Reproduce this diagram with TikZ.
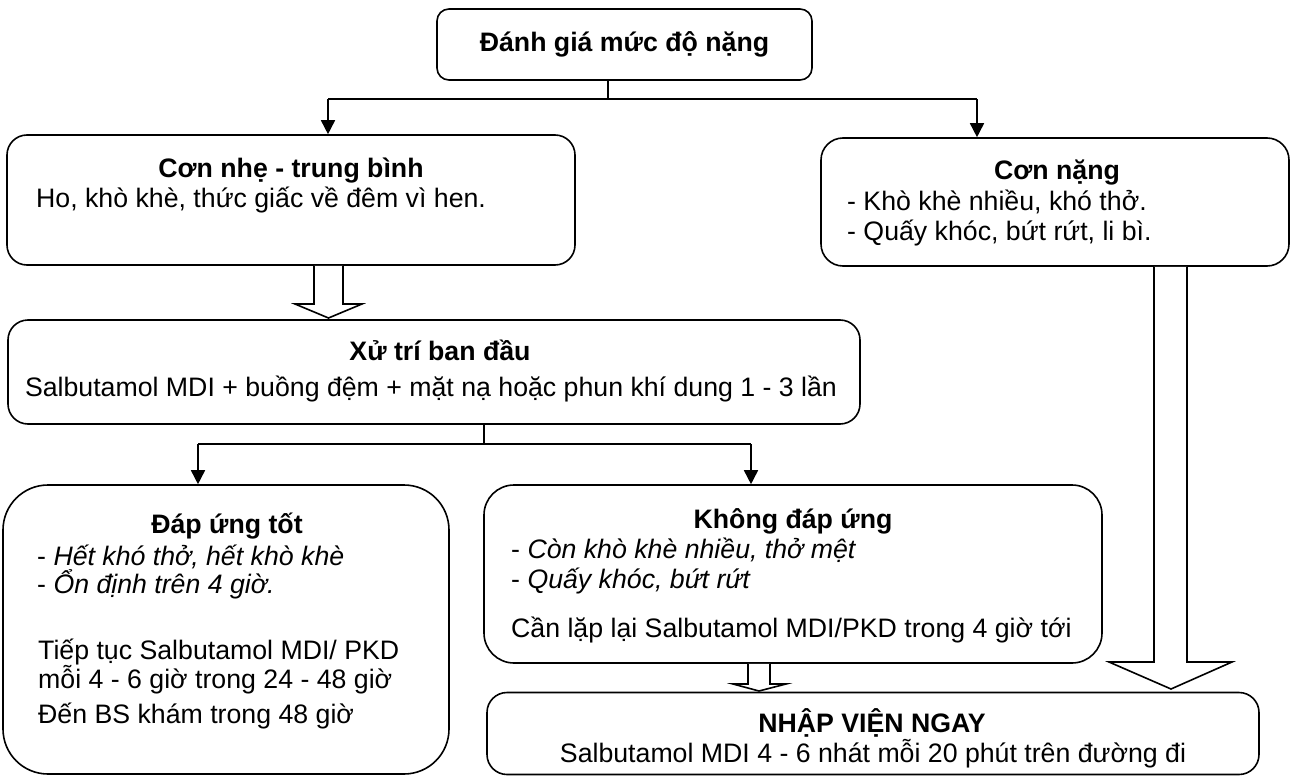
\documentclass[tikz,border=0pt]{standalone}
\usepackage{fontspec}
\setmainfont{Liberation Sans}
\usetikzlibrary{arrows.meta}
\begin{document}
\begin{tikzpicture}[x=1pt,y=-1pt,
  box/.style={draw, line width=1.6pt, inner sep=0pt},
  txt/.style={font=\fontsize{26.7}{30}\selectfont, inner sep=0pt, anchor=base},
  txl/.style={txt, anchor=base west},
  ttl/.style={txt, font=\fontsize{26.7}{30}\selectfont\bfseries},
  arr/.style={line width=1.6pt, -{Triangle[width=14pt,length=14pt]}},
  lin/.style={line width=1.6pt},
  hollow/.style={draw, fill=white, line width=1.6pt, line join=miter}]
\fill[white] (0,0) rectangle (1291,776);
\useasboundingbox (0,0) rectangle (1291,776);

% boxes
\node[box, minimum width=375pt, minimum height=71pt, rounded corners=12pt] (top) at (624.5,44.5) {};
\node[box, minimum width=568pt, minimum height=130pt, rounded corners=20pt] (nhe) at (291,200) {};
\node[box, minimum width=468pt, minimum height=128pt, rounded corners=22pt] (nang) at (1055,202) {};
\node[box, minimum width=852pt, minimum height=104pt, rounded corners=20pt] (xutri) at (434,372) {};
\node[box, minimum width=446pt, minimum height=289pt, rounded corners=45pt] (tot) at (226,629.5) {};
\node[box, minimum width=618pt, minimum height=178pt, rounded corners=30pt] (khong) at (793,574) {};
\node[box, minimum width=772pt, minimum height=82pt, rounded corners=20pt] (nhap) at (873,733.5) {};

% texts
\node[ttl] (t0) at (624.5,52) {Đánh giá mức độ nặng};
\node[ttl] (t1) at (291,177) {Cơn nhẹ - trung bình};
\node[txl] (t2) at (36,207) {Ho, khò khè, thức giấc về đêm vì hen.};
\node[ttl] (t3) at (1057,179) {Cơn nặng};
\node[txl] (t4) at (847,210) {- Khò khè nhiều, khó thở.};
\node[txl] (t5) at (847,240) {- Quấy khóc, bứt rứt, li bì.};
\node[ttl] (t6) at (440,360) {Xử trí ban đầu};
\node[txt] (t7) at (431,396) {Salbutamol MDI + buồng đệm + mặt nạ hoặc phun khí dung 1 - 3 lần};
\node[ttl] (t8) at (227,533) {Đáp ứng tốt};
\node[txl] (t9) at (37,565) {- \itshape Hết khó thở, hết khò khè};
\node[txl] (t10) at (37,593) {- \itshape Ổn định trên 4 giờ.};
\node[txl] (t11) at (38,659) {Tiếp tục Salbutamol MDI/ PKD};
\node[txl] (t12) at (38,688) {mỗi 4 - 6 giờ trong 24 - 48 giờ};
\node[txl] (t13) at (38,723) {Đến BS khám trong 48 giờ};
\node[ttl] (t14) at (793,528) {Không đáp ứng};
\node[txl] (t15) at (511,558) {- \itshape Còn khò khè nhiều, thở mệt};
\node[txl] (t16) at (511,588) {- \itshape Quấy khóc, bứt rứt};
\node[txl] (t17) at (511,637) {Cần lặp lại Salbutamol MDI/PKD trong 4 giờ tới};
\node[ttl] (t18) at (872,732) {NHẬP VIỆN NGAY};
\node[txt] (t19) at (873,762) {Salbutamol MDI 4 - 6 nhát mỗi 20 phút trên đường đi};

% connectors from top
\coordinate (j1) at (608,99);
\coordinate (a1) at (328,99);
\coordinate (a2) at (977,99);
\draw[lin] (j1 |- top.south) -- (j1);
\draw[lin] (a1) -- (a2);
\draw[arr] (a1) -- (a1 |- nhe.north);
\draw[arr] (a2) -- (a2 |- nang.north);

% connectors from xutri
\coordinate (j2) at (484,444);
\coordinate (b1) at (198,444);
\coordinate (b2) at (751,444);
\draw[lin] (j2 |- xutri.south) -- (j2);
\draw[lin] (b1) -- (b2);
\draw[arr] (b1) -- (b1 |- tot.north);
\draw[arr] (b2) -- (b2 |- khong.north);

% hollow arrows
\draw[hollow] (nhe.south -| 314,0) -- (314,304) -- (295,304) -- (328.5,318) -- (362,304) -- (343,304) -- (nhe.south -| 343,0);
\draw[hollow] (khong.south -| 748,0) -- (748,684) -- (733,684) -- (759,691) -- (786,684) -- (770,684) -- (khong.south -| 770,0);
\draw[hollow] (nang.south -| 1154,0) -- (1154,662) -- (1109,662) -- (1171,689) -- (1232,662) -- (1187,662) -- (nang.south -| 1187,0);
\end{tikzpicture}
\end{document}
